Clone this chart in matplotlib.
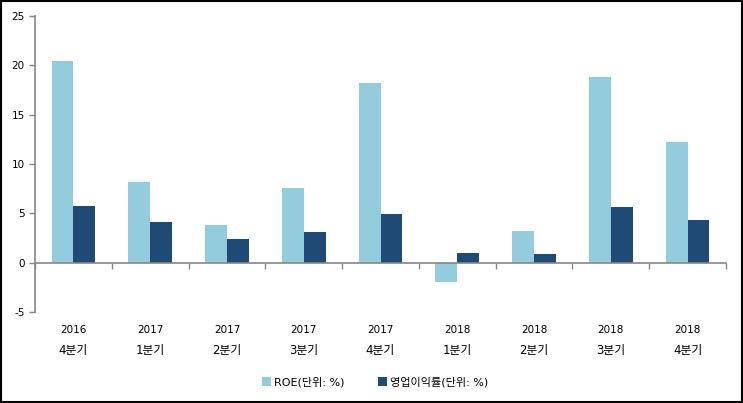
import numpy as np
import matplotlib.pyplot as plt
import matplotlib.transforms as mtransforms

plt.rcParams['font.family'] = ['DejaVu Sans', 'Noto Sans CJK KR']
plt.rcParams['axes.unicode_minus'] = False

years = ["2016", "2017", "2017", "2017", "2017", "2018", "2018", "2018", "2018"]
quarters = ["4분기", "1분기", "2분기", "3분기", "4분기", "1분기", "2분기", "3분기", "4분기"]
roe = [20.4, 8.2, 3.8, 7.6, 18.2, -2.0, 3.2, 18.8, 12.2]
op_margin = [5.7, 4.1, 2.4, 3.1, 4.9, 1.0, 0.9, 5.6, 4.3]

c_roe = "#93CDDD"
c_op = "#1F4A75"
gray = "#868686"

fig = plt.figure(figsize=(7.43, 4.03), dpi=100)
ax = fig.add_axes([35 / 743, 1 - 312 / 403, (726 - 35) / 743, (312 - 16) / 403])

x = np.arange(len(years))
w = 0.285
ax.bar(x - w / 2, roe, w, color=c_roe, label="ROE(단위: %)")
ax.bar(x + w / 2, op_margin, w, color=c_op, label="영업이익률(단위: %)")

ax.set_xlim(-0.5, len(years) - 0.5)
ax.set_ylim(-5, 25)
ax.set_yticks(range(-5, 26, 5))
ax.tick_params(axis='y', colors=gray, labelcolor='black', labelsize=7.5, length=4, width=1)

ax.spines['top'].set_visible(False)
ax.spines['right'].set_visible(False)
ax.spines['left'].set_color(gray)
ax.spines['bottom'].set_color(gray)
ax.spines['bottom'].set_position(('data', 0))
ax.spines['left'].set_linewidth(1.2)
ax.spines['bottom'].set_linewidth(1.2)

ax.set_xticks(np.arange(-0.5, len(years), 1.0))
ax.tick_params(axis='x', colors=gray, length=4, width=1, labelbottom=False)

trans = mtransforms.blended_transform_factory(ax.transData, ax.transAxes)
for i in range(len(years)):
    ax.text(i, -0.06, years[i], transform=trans, ha='center', va='center', fontsize=7.5)
    ax.text(i, -0.13, quarters[i], transform=trans, ha='center', va='center', fontsize=8.5)

fig.legend(loc='center', bbox_to_anchor=(375 / 743, 1 - 382 / 403), ncol=2, frameon=False,
           fontsize=8, handlelength=0.8, handleheight=0.8, handletextpad=0.3, columnspacing=3.0)

fig.patches.append(plt.Rectangle((0.001, 0.002), 0.997, 0.996, transform=fig.transFigure,
                                 fill=False, edgecolor='black', linewidth=1.5))

fig.savefig("out.png", dpi=100)
